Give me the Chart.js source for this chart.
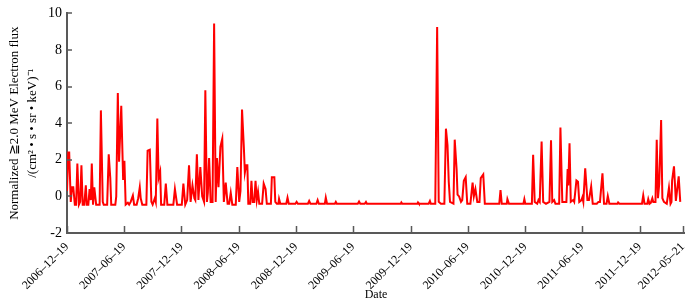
<!DOCTYPE html>
<html>
<head>
<meta charset="utf-8">
<script src="https://cdn.jsdelivr.net/npm/chart.js@4.4.1/dist/chart.umd.min.js"></script>
<style>
  html, body { margin: 0; padding: 0; background: #ffffff; }
  #wrap { width: 700px; height: 303px; }
</style>
</head>
<body>
<div id="wrap"><canvas id="flux"></canvas></div>
<script>
// days since 2006-12-19
const days = [
  0, 4, 7, 12, 16, 20, 25, 29, 33, 38, 42, 46, 50, 55, 60, 63, 68, 72, 76, 79,
  83, 87, 89, 93, 104, 108, 114, 117, 128, 133, 138, 141, 154, 157, 162, 166, 173, 179, 183, 187,
  194, 198, 203, 210, 214, 222, 227, 232, 235, 240, 253, 257, 264, 269, 273, 280, 283, 288, 292, 297,
  300, 310, 315, 320, 339, 344, 351, 366, 371, 377, 383, 389, 394, 400, 406, 409, 414, 419, 425, 431,
  437, 441, 446, 449, 453, 458, 464, 469, 474, 478, 483, 489, 495, 500, 506, 512, 517, 522, 527, 538,
  543, 549, 553, 558, 564, 567, 571, 575, 578, 584, 588, 592, 597, 601, 605, 609, 613, 622, 627, 633,
  637, 650, 653, 661, 664, 669, 674, 676, 680, 699, 703, 707, 728, 732, 736, 768, 772, 776, 795, 799,
  803, 822, 825, 829, 854, 857, 860, 927, 931, 935, 949, 953, 956, 1064, 1066, 1069, 1117, 1119, 1122, 1153,
  1157, 1160, 1174, 1180, 1185, 1192, 1203, 1208, 1213, 1217, 1221, 1232, 1236, 1242, 1245, 1250, 1256, 1260, 1265, 1271,
  1276, 1286, 1293, 1297, 1302, 1308, 1315, 1319, 1327, 1332, 1378, 1382, 1386, 1402, 1404, 1409, 1455, 1458, 1461, 1482,
  1486, 1491, 1499, 1503, 1507, 1513, 1518, 1527, 1538, 1543, 1547, 1553, 1557, 1569, 1573, 1579, 1592, 1596, 1598, 1602,
  1606, 1614, 1617, 1624, 1629, 1633, 1640, 1643, 1646, 1652, 1659, 1664, 1671, 1676, 1689, 1694, 1699, 1707, 1712, 1720,
  1724, 1729, 1755, 1757, 1761, 1833, 1837, 1841, 1850, 1853, 1857, 1861, 1866, 1869, 1876, 1880, 1884, 1888, 1894, 1898,
  1903, 1912, 1919, 1924, 1927, 1929, 1935, 1941, 1950, 1955
];
const flux = [
  0.3, 2.4, 2.4, -0.3, 0.5, 0.5, -0.45, -0.45, 1.8, -0.45, -0.3, 1.7, -0.45, -0.45, 0.6, -0.45, -0.45, 0.4, -0.2, 1.8,
  -0.45, 0.5, 0.5, -0.45, -0.45, 4.7, -0.3, -0.45, -0.45, 2.3, 1.0, -0.45, -0.45, 0.0, 5.65, 1.9, 4.95, 0.9, 1.95, -0.45,
  -0.35, -0.45, -0.3, 0.05, -0.45, -0.45, -0.1, 0.5, -0.1, -0.45, -0.45, 2.5, 2.55, -0.3, -0.45, -0.1, -0.3, 4.25, 1.0, 1.35,
  -0.45, -0.45, 0.7, -0.45, -0.45, 0.4, -0.45, -0.45, 0.7, -0.45, -0.2, 1.7, -0.3, 0.6, -0.1, -0.2, 2.3, -0.2, 1.6, 0.0,
  -0.3, 5.8, -0.3, 0.2, 2.1, -0.3, -0.3, 9.45, -0.3, 2.1, 0.5, 2.7, 3.15, -0.3, 0.75, -0.4, -0.4, 0.2, -0.45, -0.45,
  1.6, -0.3, 0.3, 4.75, 2.6, 1.3, 1.7, 1.7, -0.4, -0.4, 0.85, -0.3, -0.3, 0.85, -0.2, 0.25, -0.4, -0.4, 0.7, 0.4,
  -0.4, -0.4, 1.05, 1.05, -0.3, -0.4, -0.4, -0.13, -0.4, -0.4, -0.07, -0.4, -0.4, -0.3, -0.4, -0.4, -0.25, -0.4, -0.4, -0.2,
  -0.4, -0.4, -0.07, -0.4, -0.4, -0.3, -0.4, -0.4, -0.28, -0.4, -0.4, -0.3, -0.4, -0.4, -0.33, -0.4, -0.4, -0.33, -0.4, -0.4,
  -0.25, -0.4, -0.4, 9.25, -0.3, -0.4, -0.4, 3.7, 2.8, 0.8, -0.3, -0.4, 3.1, 1.5, 0.1, 0.0, -0.3, -0.2, 0.85, 1.05,
  -0.4, -0.4, 0.75, 0.0, 0.4, -0.3, -0.3, 1.0, 1.2, -0.4, -0.4, 0.35, -0.4, -0.4, -0.15, -0.4, -0.4, -0.15, -0.4, -0.4,
  2.28, -0.3, -0.4, -0.2, -0.3, 3.0, -0.3, -0.4, -0.3, 3.07, -0.3, -0.2, -0.4, -0.4, 3.76, -0.3, -0.3, 1.5, 0.6, 2.9,
  -0.3, -0.2, -0.3, 0.87, 0.8, -0.3, -0.2, -0.05, -0.3, 1.53, -0.2, -0.2, 0.54, -0.4, -0.4, -0.3, -0.3, 1.26, -0.4, -0.4,
  0.02, -0.4, -0.4, -0.33, -0.4, -0.4, 0.05, -0.4, -0.4, -0.15, -0.4, -0.35, -0.1, -0.3, -0.3, 3.1, -0.1, 0.7, 4.17, -0.1,
  -0.3, -0.4, 0.47, -0.4, -0.3, 0.87, 1.64, -0.25, 1.1, -0.3
];
const tickDays = [0, 182, 365, 547, 730, 912, 1096, 1277, 1461, 1642, 1826, 1963];
const tickLabels = [
  '2006–12–19', '2007–06–19', '2007–12–19', '2008–06–19', '2008–12–19', '2009–06–19',
  '2009–12–19', '2010–06–19', '2010–12–19', '2011–06–19', '2011–12–19', '2012–05–21'
];

const axisColor = '#595959';
const serif = '"Liberation Serif", "Times New Roman", serif';

// tick marks pointing into the plot
const innerTicks = {
  id: 'innerTicks',
  afterDraw(chart) {
    const { ctx, chartArea, scales } = chart;
    ctx.save();
    ctx.strokeStyle = axisColor;
    ctx.lineWidth = 1.5;
    ctx.beginPath();
    scales.y.ticks.forEach(t => {
      const py = Math.round(scales.y.getPixelForValue(t.value));
      ctx.moveTo(chartArea.left, py);
      ctx.lineTo(chartArea.left + 5, py);
    });
    scales.x.ticks.forEach(t => {
      const px = Math.round(scales.x.getPixelForValue(t.value)) + 0.5;
      ctx.moveTo(px, chartArea.bottom);
      ctx.lineTo(px, chartArea.bottom - 7);
    });
    ctx.stroke();
    ctx.restore();
  }
};

new Chart(document.getElementById('flux'), {
  type: 'line',
  data: {
    datasets: [{
      data: days.map((d, i) => ({ x: d, y: flux[i] })),
      borderColor: '#ff0000',
      borderWidth: 2,
      pointRadius: 0,
      tension: 0,
      fill: false
    }]
  },
  options: {
    responsive: true,
    maintainAspectRatio: false,
    animation: false,
    layout: { padding: { left: 0, top: 11, right: 15, bottom: 0 } },
    plugins: { legend: { display: false }, tooltip: { enabled: false } },
    scales: {
      x: {
        type: 'linear',
        min: 0,
        max: 1970,
        afterBuildTicks: s => { s.ticks = tickDays.map(v => ({ value: v })); },
        afterFit: s => { s.height = 70; },
        grid: { display: false, drawTicks: false },
        border: { color: axisColor, width: 2 },
        ticks: {
          autoSkip: false,
          minRotation: 45,
          maxRotation: 45,
          padding: 7,
          color: '#000',
          font: { family: serif, size: 12 },
          callback: v => tickLabels[tickDays.indexOf(v)]
        },
        title: {
          display: true,
          text: 'Date',
          color: '#000',
          font: { family: serif, size: 12 },
          padding: { top: 0, bottom: 1 }
        }
      },
      y: {
        min: -2,
        max: 10,
        afterFit: s => { s.width = 67; },
        grid: { display: false, drawTicks: false },
        border: { color: axisColor, width: 2 },
        ticks: {
          stepSize: 2,
          padding: 5,
          color: '#000',
          font: { family: serif, size: 14 }
        },
        title: {
          display: true,
          text: ['Normalized ≧2.0 MeV Electron flux', '/(cm² • s • sr • keV)⁻¹'],
          color: '#000',
          font: { family: serif, size: 13, lineHeight: 1.38 },
          padding: { top: 6, bottom: 0 }
        }
      }
    }
  },
  plugins: [innerTicks]
});
</script>
</body>
</html>
